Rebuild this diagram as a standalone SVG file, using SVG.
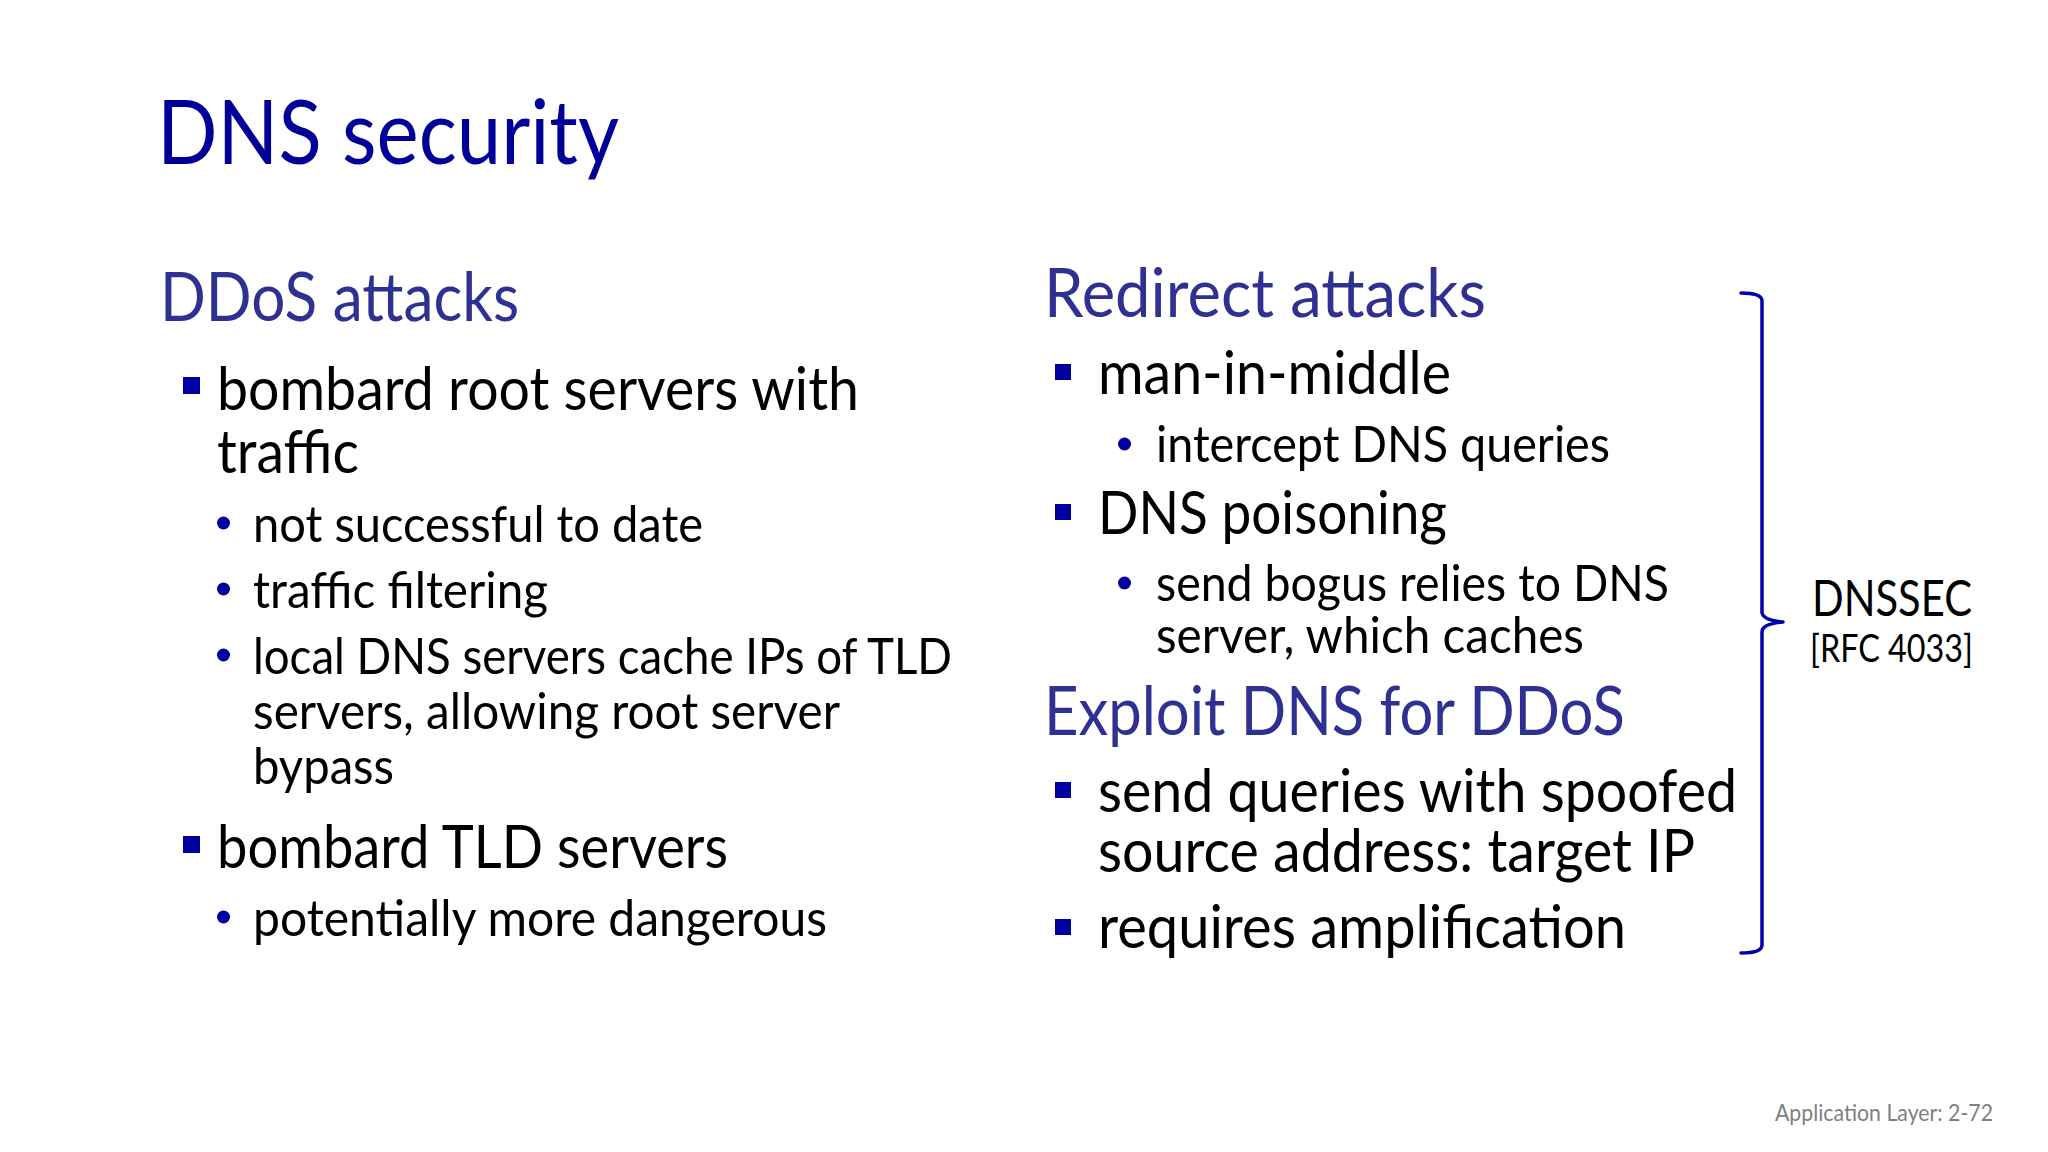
<svg xmlns="http://www.w3.org/2000/svg" width="2048" height="1152" viewBox="0 0 2048 1152">
<style>
text{font-family:Lato,"Liberation Sans",sans-serif;}
.title{font-size:90px;fill:#000099;}
.head{font-size:68px;fill:#2E3192;}
.l1{font-size:60px;fill:#000;}
.l2{font-size:51px;fill:#000;}
.sq{fill:#0000A0;}
.dot{fill:#0000A0;}
.note{font-size:51px;fill:#000;}
.ref{font-size:38px;fill:#000;}
.foot{font-size:23.5px;fill:#7F7F7F;}
.brace{fill:none;stroke:#0000AA;stroke-width:3.5;stroke-linejoin:round;stroke-linecap:round;}
</style>
<rect width="2048" height="1152" fill="#fff"/>
<g id="title"><text class="title" x="157" y="164" textLength="462" lengthAdjust="spacingAndGlyphs">DNS security</text></g>

<g id="ddos">
<text class="head" x="160" y="321" textLength="359" lengthAdjust="spacingAndGlyphs">DDoS attacks</text>
<rect class="sq" x="183" y="377" width="17" height="17"/>
<text class="l1" x="217" y="410" textLength="642" lengthAdjust="spacingAndGlyphs">bombard root servers with</text>
<text class="l1" x="217" y="473" textLength="142" lengthAdjust="spacingAndGlyphs">traffic</text>
<circle class="dot" cx="223.5" cy="523" r="6.5"/>
<text class="l2" x="253" y="542" textLength="450" lengthAdjust="spacingAndGlyphs">not successful to date</text>
<circle class="dot" cx="223.5" cy="589" r="6.5"/>
<text class="l2" x="253" y="608" textLength="295" lengthAdjust="spacingAndGlyphs">traffic filtering</text>
<circle class="dot" cx="223.5" cy="655" r="6.5"/>
<text class="l2" x="253" y="674" textLength="699" lengthAdjust="spacingAndGlyphs">local DNS servers cache IPs of TLD</text>
<text class="l2" x="253" y="729" textLength="587" lengthAdjust="spacingAndGlyphs">servers, allowing root server</text>
<text class="l2" x="253" y="784" textLength="141" lengthAdjust="spacingAndGlyphs">bypass</text>
<rect class="sq" x="183" y="836" width="17" height="17"/>
<text class="l1" x="217" y="868" textLength="511" lengthAdjust="spacingAndGlyphs">bombard TLD servers</text>
<circle class="dot" cx="223.5" cy="917" r="6.5"/>
<text class="l2" x="253" y="936" textLength="574" lengthAdjust="spacingAndGlyphs">potentially more dangerous</text>
</g>

<g id="redirect">
<text class="head" x="1044" y="317" textLength="442" lengthAdjust="spacingAndGlyphs">Redirect attacks</text>
<rect class="sq" x="1055" y="364" width="16" height="16"/>
<text class="l1" x="1098" y="394" textLength="353" lengthAdjust="spacingAndGlyphs">man-in-middle</text>
<circle class="dot" cx="1124.5" cy="444" r="6.5"/>
<text class="l2" x="1156" y="462" textLength="454" lengthAdjust="spacingAndGlyphs">intercept DNS queries</text>
<rect class="sq" x="1055" y="504" width="16" height="16"/>
<text class="l1" x="1098" y="534" textLength="349" lengthAdjust="spacingAndGlyphs">DNS poisoning</text>
<circle class="dot" cx="1124.5" cy="583" r="6.5"/>
<text class="l2" x="1156" y="601" textLength="513" lengthAdjust="spacingAndGlyphs">send bogus relies to DNS</text>
<text class="l2" x="1156" y="653" textLength="428" lengthAdjust="spacingAndGlyphs">server, which caches</text>
</g>

<g id="exploit">
<text class="head" x="1044" y="735" textLength="581" lengthAdjust="spacingAndGlyphs">Exploit DNS for DDoS</text>
<rect class="sq" x="1055" y="782" width="16" height="16"/>
<text class="l1" x="1098" y="812" textLength="639" lengthAdjust="spacingAndGlyphs">send queries with spoofed</text>
<text class="l1" x="1098" y="872" textLength="597" lengthAdjust="spacingAndGlyphs">source address: target IP</text>
<rect class="sq" x="1055" y="919" width="16" height="16"/>
<text class="l1" x="1098" y="948" textLength="528" lengthAdjust="spacingAndGlyphs">requires amplification</text>
</g>

<g id="connectors">
<path class="brace" d="M1741,293 Q1762,293 1762,301 L1762,612 Q1762,620 1783,622 Q1762,624 1762,632 L1762,945 Q1762,953 1741,953"/>
</g>

<g id="dnssec">
<text class="note" x="1812" y="616" textLength="160" lengthAdjust="spacingAndGlyphs">DNSSEC</text>
<text class="ref" x="1810" y="662" textLength="163" lengthAdjust="spacingAndGlyphs">[RFC 4033]</text>
</g>

<g id="footer"><text class="foot" x="1775" y="1121" textLength="218" lengthAdjust="spacingAndGlyphs">Application Layer: 2-72</text></g>
</svg>
